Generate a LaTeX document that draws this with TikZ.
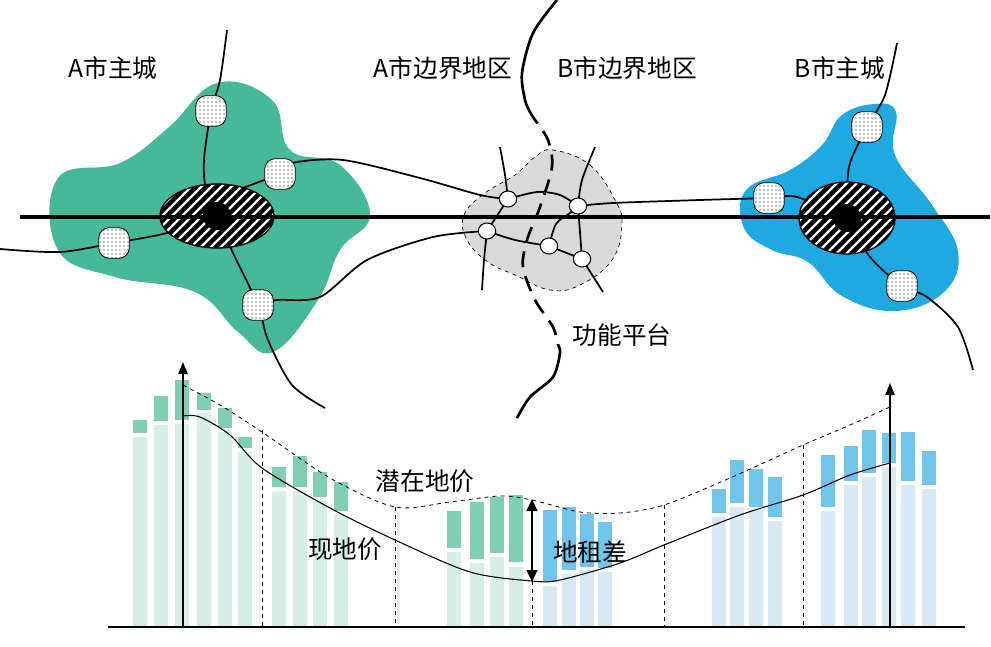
\documentclass[tikz,border=0pt]{standalone}
\usepackage{fontspec}
\setmainfont{Noto Sans CJK SC}
\usetikzlibrary{patterns,arrows.meta,shapes.misc,shapes.geometric,calc}
\definecolor{gA}{HTML}{45B998}
\definecolor{bB}{HTML}{1FA9E1}
\definecolor{gd}{HTML}{80CFB2}
\definecolor{gl}{HTML}{D7EEE6}
\definecolor{bd}{HTML}{72C5EA}
\definecolor{bl}{HTML}{D8E9F3}
\definecolor{gr}{HTML}{D9D9D9}
\tikzset{
  lbl/.style={font=\fontsize{18.5}{20}\selectfont, inner sep=0pt},
  road/.style={line width=1.3pt},
  stn/.style={rectangle, rounded corners=8pt, minimum width=23pt, minimum height=23pt, draw=black, line width=0.6pt, preaction={fill=white}, pattern=dots, inner sep=0pt},
  wn/.style={ellipse, draw=black, fill=white, line width=0.8pt, minimum width=13pt, minimum height=12pt, inner sep=0pt},
}
\begin{document}
\begin{tikzpicture}[x=0.75pt,y=-0.75pt]
\useasboundingbox (0,0) rectangle (991,646);
% blobs
\fill[gA] plot[smooth cycle, tension=0.7] coordinates {(217,83)(272,100)(290,150)(340,165)(370,215)(340,250)(318,300)(273,352)(238,332)(195,292)(115,277)(58,250)(58,178)(120,163)(168,128)};
\fill[bB] plot[smooth cycle, tension=0.7] coordinates {(875,104)(896,112)(895,155)(932,205)(958,252)(944,292)(895,311)(842,296)(808,262)(772,250)(744,228)(746,190)(790,170)(822,145)(842,115)};
\filldraw[fill=gr, draw=black, dashed, line width=0.5pt] plot[smooth cycle, tension=0.7] coordinates {(553,150)(590,165)(615,200)(622,225)(612,260)(580,285)(550,290)(515,275)(488,262)(467,240)(464,215)(485,193)(515,175)(535,157)};
% positions
\coordinate (pa1) at (211,111); \coordinate (pa2) at (280,174);
\coordinate (pa3) at (114,243); \coordinate (pa4) at (258,305);
\coordinate (pb1) at (867,127); \coordinate (pb2) at (769,198);
\coordinate (pb3) at (902,286);
\coordinate (pg1) at (508,199); \coordinate (pg2) at (578,206);
\coordinate (pg3) at (487,231); \coordinate (pg4) at (549,246);
\coordinate (pg5) at (582,259);
\coordinate (ca) at (217,216);
\coordinate (cb) at (847,218);
% roads
\draw[road] plot[smooth] coordinates {(227,30)(220,80)(pa1)(204,160)(206,190)(ca)};
\draw[road] (ca) -- (243,188) -- (pa2);
\draw[road] plot[smooth] coordinates {(pa2)(292,163)(343,160)(420,178)(480,195)(pg1)};
\draw[road] plot[smooth] coordinates {(0,249)(60,252)(pa3)(167,233)(ca)};
\draw[road] plot[smooth] coordinates {(ca)(233,253)(pa4)(268,340)(292,385)(325,408)};
\draw[road] plot[smooth] coordinates {(pa4)(277,300)(320,297)(367,260)(433,237)(pg3)};
\draw[road] plot[smooth] coordinates {(500,147)(505,175)(pg1)};
\draw[road] plot[smooth] coordinates {(pg1)(537,192)(560,195)(pg2)};
\draw[road] plot[smooth] coordinates {(595,147)(582,180)(pg2)};
\draw[road] (pg1) -- (pg3);
\draw[road] plot[smooth] coordinates {(pg3)(484,260)(482,290)};
\draw[road] plot[smooth] coordinates {(pg3)(515,240)(pg4)};
\draw[road] plot[smooth] coordinates {(pg4)(556,224)(570,213)(pg2)};
\draw[road] (pg4) -- (pg5);
\draw[road] (pg5) -- (pg2);
\draw[road] (pg5) -- (603,292);
\draw[road] plot[smooth] coordinates {(pg2)(613,203)(700,200)(pb2)(797,197)(cb)};
\draw[road] plot[smooth] coordinates {(897,43)(885,95)(pb1)(849,167)(cb)};
\draw[road] plot[smooth] coordinates {(cb)(870,257)(pb3)(927,297)(958,327)(973,370)};
% nodes
\foreach \n in {a1,a2,a3,a4,b1,b2,b3} \node[stn] (\n) at (p\n) {};
\foreach \n in {g1,g2,g3,g4,g5} \node[wn] (\n) at (p\n) {};
% hatched centers
\foreach \c/\rx/\ry in {ca/57/32, cb/48/36}{
  \begin{scope}
    \clip (\c) ellipse[x radius=\rx*0.75pt, y radius=\ry*0.75pt];
    \fill[white] (\c) ellipse[x radius=\rx*0.75pt, y radius=\ry*0.75pt];
    \foreach \k in {-12,...,12} \draw[line width=3.4pt] ($(\c)+(\k*10,0)+(-45,45)$) -- ++(90,-90);
  \end{scope}
  \draw[line width=1pt] (\c) ellipse[x radius=\rx*0.75pt, y radius=\ry*0.75pt];
}
\draw[line width=3.2pt] (20,217) -- (990,217);
\fill (ca) circle[radius=10.5pt];
\fill (cb) circle[radius=10.5pt];
% border line
\draw[line width=2pt] plot[smooth] coordinates {(557,0)(533,33)(522,73)(525,100)(529,110)};
\draw[line width=2pt, dash pattern=on 12pt off 7pt] plot[smooth] coordinates {(529,110)(533,117)(548,140)(552,167)(540,207)(527,240)(523,267)(535,300)(553,327)(558,345)};
\draw[line width=2pt] plot[smooth] coordinates {(558,345)(560,353)(553,377)(530,397)(517,418)};
% labels
\node[lbl] (tA) at (113,68) {A市主城};
\node[lbl] (tAb) at (443,68) {A市边界地区};
\node[lbl] (tBb) at (627,68) {B市边界地区};
\node[lbl] (tB) at (840,68) {B市主城};
\node[lbl] (tF) at (622,335) {功能平台};
% bars
\foreach \x/\dt/\db/\lt in {140/420/433/437, 161/396/421/425, 182/380/420/424, 204/393/410/413, 225/408/428/432, 245/437/448/452, 279/467/487/491, 300/456/487/491, 320/472/497/501, 341/482/511/515, 454/511/548/552, 477/502/559/563, 497/497/553/557, 516/495/562/567}{
  \fill[gd] (\x-7,\dt) rectangle (\x+7,\db);
  \fill[gl] (\x-7,\lt) rectangle (\x+7,627);
}
\foreach \x/\dt/\db/\lt in {550/510/582/586, 569/507/570/574, 587/514/567/570, 605/522/568/572, 719/489/513/517, 737/460/503/507, 756/469/507/510, 775/477/517/521, 828/455/507/511, 851/446/481/485, 869/430/473/477, 889/433/463/467, 908/432/481/485, 929/451/485/489}{
  \fill[bd] (\x-7,\dt) rectangle (\x+7,\db);
  \fill[bl] (\x-7,\lt) rectangle (\x+7,627);
}
% dividers
\foreach \x/\t in {262/430, 395/507, 532/581, 664/505, 803/445} \draw[dashed, line width=0.6pt] (\x,\t) -- (\x,627);
% curves
\draw[line width=0.8pt] plot[smooth] coordinates {(183,416)(200,417)(230,435)(262,468)(330,508)(395,540)(470,572)(532,581)(560,580)(620,563)(664,545)(740,515)(803,495)(850,475)(890,463)};
\draw[dashed, line width=0.6pt] plot[smooth] coordinates {(183,385)(220,405)(262,432)(330,478)(395,507)(450,502)(500,496)(532,500)(580,512)(620,513)(664,505)(730,478)(803,445)(850,425)(890,407)};
% axes
\coordinate (o1) at (183,627); \coordinate (t1) at (183,362);
\coordinate (o2) at (890,627); \coordinate (t2) at (890,383);
\draw[line width=0.9pt, -{Triangle[length=9pt,width=7pt]}] (o1) -- (t1);
\draw[line width=0.9pt, -{Triangle[length=9pt,width=7pt]}] (o2) -- (t2);
\draw[line width=1.8pt] (108,627) -- (965,627);
\coordinate (d1) at (532,499); \coordinate (d2) at (532,582);
\draw[line width=1.6pt, {Triangle[length=9pt,width=8pt]}-{Triangle[length=9pt,width=8pt]}] (d1) -- (d2);
\node[lbl] (tP) at (425,481) {潜在地价};
\node[lbl] (tC) at (345,549) {现地价};
\node[lbl] (tD) at (590,552) {地租差};
\end{tikzpicture}
\end{document}
